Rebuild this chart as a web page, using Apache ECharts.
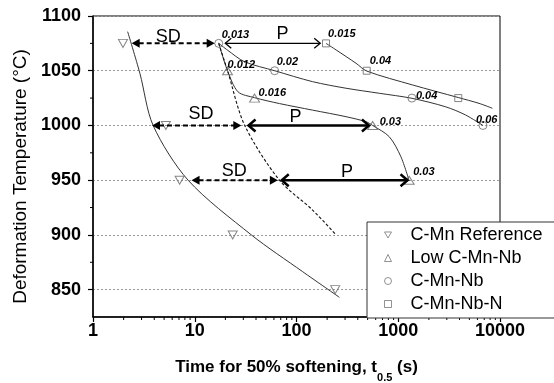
<!DOCTYPE html>
<html><head><meta charset="utf-8">
<script src="https://cdn.jsdelivr.net/npm/echarts@6/dist/echarts.min.js"></script>
<style>html,body{margin:0;padding:0;background:#fff}#c{width:554px;height:383px}</style>
</head><body><div id="c"></div>
<script>
// ---------- data ----------
const seriesNames = ['C-Mn Reference', 'Low C-Mn-Nb', 'C-Mn-Nb', 'C-Mn-Nb-N'];
const xMinorTicks = [2,3,4,5,6,7,8,9,20,30,40,50,60,70,80,90,200,300,400,500,600,700,800,900,2000,3000,4000,5000,6000,7000,8000,9000];
const yMinorTicks = [875, 925, 975, 1025, 1075];
// measured points [t0.5 (s), T (°C)]
const cmnRefPts = [[1.97,1075],[5.2,1000],[7.1,950],[23.6,900],[240,850]];
const lowNbPts  = [[21,1050],[38.7,1025],[560,1000],[1280,950]];
const nbPts     = [[17.2,1075],[61,1050],[1362,1025],[6800,1000]];
const nbNPts    = [[195,1075],[490,1050],[3890,1025]];
// strain annotations
const lowNbStrain = ['0.012','0.016','0.03','0.03'];
const nbStrain    = ['0.013','0.02','0.04','0.06'];
const nbNStrain   = ['0.015','0.04',''];
// fitted curves [t0.5, T]
const cmnRefCurve = [[2.19,1085.7],[2.89,1047.6],[3.9,1000],[8.6,950],[36,900],[115,866.4],[264,843]];
const lowNbCurve  = [[17.2,1075],[21,1050],[26.6,1030.8],[38.7,1025.4],[68,1020],[144,1014],[307,1008],[482,1003.4],[560,1000],[816,989.7],[1062,971.4],[1282,949.2]];
const nbCurve     = [[17.2,1075],[21,1068.8],[30.9,1058.2],[61,1050],[144,1040],[307,1034],[651,1029.4],[1362,1024.8],[2933,1017],[4600,1009.5],[6800,1000]];
const nbNCurve    = [[195,1075],[245,1069],[385,1056.8],[490,1049.7],[1383,1037],[3890,1025.5],[6220,1020.2],[8410,1015.7]];
const boundaryCurve = [[17.2,1075],[21,1050],[31,1000],[68,950],[144,922.7],[245,900]];
// arrows [from t, to t, T]
const sdArrows = [[2.4,15.7,1075],[3.8,28.7,1000],[9.3,65.6,950]];
const pArrows  = [[19.5,175,1075],[33,527,1000],[70,1262,950]];
const sdLabelX = [5.5, 11.5, 24.4];
const pLabelX  = [73, 98, 313];

// ---------- styles ----------
const FONT = '"Liberation Sans", Arial, Helvetica, sans-serif';
const lowNbOff = [[0,-6],[4,-5],[7,-3],[4,-8]];
const nbOff    = [[3,-8],[2,-8.5],[4,-2],[-7,-5]];
const nbNOff   = [[2,-9],[3,-10],[0,0]];
const sdLabelDy = [-6,-11,-9];
const pLabelDy  = [-9,-8,-8];
const markerStyle = {color:'rgba(0,0,0,0)', borderColor:'#666', borderWidth:1};
const DOWN_TRI = 'path://M0,0L10,0L5,8.66Z';

function curveSeries(data, dashed) {
  return {type:'line', data, smooth:0.3, symbol:'none', silent:true, z:2,
    lineStyle:{color: dashed ? '#111' : '#333', width: dashed ? 1.1 : 1, type: dashed ? [3,2] : 'solid'}};
}
function strainSeries(pts, texts, offs) {
  return {type:'custom', silent:true, z:4, data: pts.map(p => [p[0], p[1]]),
    renderItem(params, api) {
      const i = params.dataIndex;
      const t = texts[i];
      if (!t) return {type:'group', children:[]};
      const c = api.coord([api.value(0), api.value(1)]);
      return {type:'text', style:{text:t, x:c[0]+offs[i][0], y:c[1]+offs[i][1], align:'left', verticalAlign:'middle',
        font:'italic bold 11px ' + FONT, fill:'#000'}};
    }};
}
function arrowSeries(arrs, labelX, labelText, labelDy, kind) {
  return {type:'custom', silent:true, z:4, data: arrs.map(a => [a[0], a[2]]),
    renderItem(params, api) {
      const i = params.dataIndex;
      const a = arrs[i];
      const p1 = api.coord([a[0], a[2]]), p2 = api.coord([a[1], a[2]]);
      const lp = api.coord([labelX[i], a[2]]);
      const y = p1[1];
      const ch = [];
      if (kind === 'sd') {
        const L = 8, W = 4.5;
        ch.push({type:'line', shape:{x1:p1[0]+L-1, y1:y, x2:p2[0]-L+1, y2:y},
          style:{stroke:'#000', lineWidth:2, lineDash:[5,3]}});
        ch.push({type:'polygon', shape:{points:[[p1[0],y],[p1[0]+L,y-W],[p1[0]+L,y+W]]}, style:{fill:'#000'}});
        ch.push({type:'polygon', shape:{points:[[p2[0],y],[p2[0]-L,y-W],[p2[0]-L,y+W]]}, style:{fill:'#000'}});
      } else {
        const thin = i === 0;
        const lw = thin ? 1.3 : 2.5, L = thin ? 7 : 8, W = thin ? 5 : 6;
        ch.push({type:'line', shape:{x1:p1[0]+1, y1:y, x2:p2[0]-1, y2:y}, style:{stroke:'#000', lineWidth:lw}});
        ch.push({type:'polyline', shape:{points:[[p1[0]+L,y-W],[p1[0]+1,y],[p1[0]+L,y+W]]}, style:{stroke:'#000', lineWidth:lw, fill:null}});
        ch.push({type:'polyline', shape:{points:[[p2[0]-L,y-W],[p2[0]-1,y],[p2[0]-L,y+W]]}, style:{stroke:'#000', lineWidth:lw, fill:null}});
      }
      ch.push({type:'text', style:{text:labelText, x:lp[0], y:y+labelDy[i], align:'center', verticalAlign:'middle',
        font:'18px ' + FONT, fill:'#000'}});
      return {type:'group', children:ch};
    }};
}
function minorTickSeries(vals, isX) {
  return {type:'custom', silent:true, z:3, clip:false,
    data: vals.map(v => isX ? [v, 1000] : [1, v]),
    renderItem(params, api) {
      const cs = params.coordSys;
      const c = api.coord([api.value(0), api.value(1)]);
      if (isX) {
        const yb = cs.y + cs.height;
        return {type:'line', shape:{x1:c[0], y1:yb, x2:c[0], y2:yb+3}, style:{stroke:'#000', lineWidth:1}};
      }
      return {type:'line', shape:{x1:cs.x-3, y1:c[1], x2:cs.x, y2:c[1]}, style:{stroke:'#000', lineWidth:1}};
    }};
}

const chart = echarts.init(document.getElementById('c'), null, {renderer:'canvas'});
chart.setOption({
  animation:false,
  backgroundColor:'#fff',
  grid:{left:93, right:54, top:16, bottom:66, containLabel:false, outerBoundsMode:'none',
    show:true, borderColor:'#000', borderWidth:1, backgroundColor:'transparent'},
  xAxis:{type:'log', logBase:10, min:1, max:10000,
    axisLine:{lineStyle:{color:'#000', width:1.5}},
    axisTick:{show:true, length:5, lineStyle:{color:'#000', width:1.2}},
    axisLabel:{color:'#000', fontSize:18, fontWeight:'bold', fontFamily:FONT, margin:5, formatter: v => String(Math.round(v))},
    splitLine:{show:false},
    name:'Time for 50% softening, t{sub|0.5} (s)', nameLocation:'middle', nameGap:35,
    nameTextStyle:{color:'#000', fontSize:17, fontWeight:'bold', fontFamily:FONT,
      rich:{sub:{fontSize:11, fontWeight:'bold', fontFamily:FONT, color:'#000', padding:[20,0,0,0]}}}
  },
  yAxis:{type:'value', min:825, max:1100, splitNumber:5,
    axisLine:{show:true, lineStyle:{color:'#000', width:1.5}},
    axisTick:{show:true, length:5, lineStyle:{color:'#000', width:1.2}},
    axisLabel:{color:'#000', fontSize:18, fontWeight:'bold', fontFamily:FONT, margin:12, showMinLabel:false,
      formatter: v => String(Math.round(v))},
    splitLine:{show:true, lineStyle:{color:'#9a9a9a', width:1, type:[2,2]}},
    name:'Deformation Temperature (°C)', nameLocation:'middle', nameGap:61,
    nameTextStyle:{color:'#000', fontSize:19, fontFamily:FONT, padding:[0,20,0,0]}
  },
  legend:{orient:'vertical', left:367, top:222, padding:[4,25,5,17], itemGap:5, itemWidth:7, itemHeight:7,
    backgroundColor:'#fff', borderColor:'#333', borderWidth:1, selectedMode:false,
    textStyle:{fontSize:18, color:'#000', fontFamily:FONT, padding:[0,0,0,14]},
    itemStyle:{color:'rgba(0,0,0,0)', borderColor:'#777', borderWidth:1},
    data:[{name:seriesNames[0], icon:DOWN_TRI},{name:seriesNames[1], icon:'triangle'},
          {name:seriesNames[2], icon:'circle'},{name:seriesNames[3], icon:'rect'}]
  },
  series:[
    curveSeries(cmnRefCurve), curveSeries(lowNbCurve), curveSeries(nbCurve), curveSeries(nbNCurve),
    curveSeries(boundaryCurve, true),
    {type:'scatter', name:seriesNames[0], data:cmnRefPts, symbol:DOWN_TRI, symbolSize:[9,8], itemStyle:markerStyle, z:3, silent:true},
    {type:'scatter', name:seriesNames[1], data:lowNbPts, symbol:'triangle', symbolSize:[10,8], itemStyle:markerStyle, z:3, silent:true},
    {type:'scatter', name:seriesNames[2], data:nbPts, symbol:'circle', symbolSize:8, itemStyle:markerStyle, z:3, silent:true},
    {type:'scatter', name:seriesNames[3], data:nbNPts, symbol:'rect', symbolSize:7, itemStyle:markerStyle, z:3, silent:true},
    strainSeries(lowNbPts, lowNbStrain, lowNbOff),
    strainSeries(nbPts, nbStrain, nbOff),
    strainSeries(nbNPts, nbNStrain, nbNOff),
    arrowSeries(sdArrows, sdLabelX, 'SD', sdLabelDy, 'sd'),
    arrowSeries(pArrows, pLabelX, 'P', pLabelDy, 'p'),
    minorTickSeries(xMinorTicks, true),
    minorTickSeries(yMinorTicks, false)
  ]
});
</script></body></html>
